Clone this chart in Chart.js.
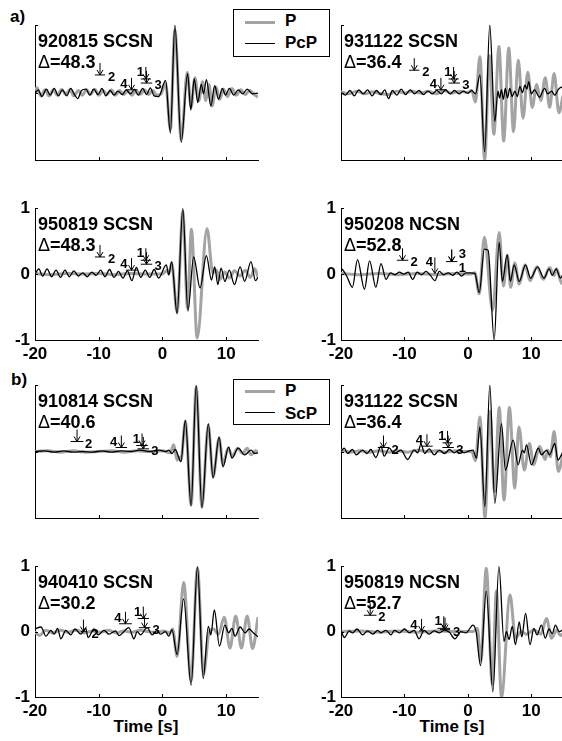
<!DOCTYPE html>
<html><head><meta charset="utf-8">
<script src="https://cdn.jsdelivr.net/npm/chart.js@4.4.1/dist/chart.umd.min.js"></script>
<style>
html,body{margin:0;padding:0;background:#fff;width:562px;height:741px;overflow:hidden;position:relative;font-family:'Liberation Sans',Arial,Helvetica,sans-serif;}
canvas{position:absolute;}
.t{position:absolute;font-size:17px;font-weight:bold;color:#000;line-height:17px;white-space:nowrap;}
.leg{position:absolute;border:1.5px solid #000;background:#fff;box-sizing:border-box;}
.ln{position:absolute;}
</style>
</head><body>
<div class="t" style="left:10px;top:8px">a)</div>
<div class="t" style="left:11px;top:371px">b)</div>
<div class="leg" style="left:233px;top:9px;width:97px;height:48px"></div>
<div class="ln" style="left:245px;top:20.5px;width:30px;height:3px;background:#a3a3a3"></div>
<div class="ln" style="left:245px;top:42.5px;width:30px;height:1.4px;background:#000"></div>
<div class="t" id="la1" style="left:285px;top:12px"></div>
<div class="t" id="la2" style="left:285px;top:34px"></div>
<div class="leg" style="left:233px;top:379px;width:97px;height:46px"></div>
<div class="ln" style="left:245px;top:389.5px;width:30px;height:3px;background:#a3a3a3"></div>
<div class="ln" style="left:245px;top:412px;width:30px;height:1.4px;background:#000"></div>
<div class="t" id="lb1" style="left:285px;top:382px"></div>
<div class="t" id="lb2" style="left:285px;top:405px"></div>
<div class="t" id="xt1" style="left:146px;top:718px;transform:translateX(-50%)"></div>
<div class="t" id="xt2" style="left:452px;top:718px;transform:translateX(-50%)"></div>
<script>
// ---------- data ----------
const X_TICKS = [-20, -10, 0, 10];
const Y_TICKS = [-1, 0, 1];
const X_TITLE = 'Time [s]';
const LEGEND_A = ['P', 'PcP'];
const LEGEND_B = ['P', 'ScP'];
const STATIONS = ['920815 SCSN','931122 SCSN','950819 SCSN','950208 NCSN','910814 SCSN','931122 SCSN','940410 SCSN','950819 NCSN'];
const DISTANCES = ['48.3','36.4','48.3','52.8','40.6','36.4','30.2','52.7'];

// traces: [time s, normalized amplitude]; P = grey, C = black (PcP / ScP)
const P1 = [[-20,0.03],[-19.7,0.07],[-19.1,-0.05],[-18.4,0.04],[-17.8,-0.05],[-17.1,0.04],[-16.5,-0.04],[-15.8,0.05],[-15.2,-0.03],[-14.5,0.04],[-13.9,-0.05],[-13.2,0.03],[-12.6,-0.04],[-11.9,0.04],[-11.3,-0.03],[-10.6,0.05],[-10.0,-0.04],[-9.3,0.03],[-8.7,-0.03],[-8.0,0.04],[-7.4,-0.04],[-6.7,0.03],[-6.1,-0.03],[-5.4,0.02],[-4.8,-0.04],[-4.1,0.03],[-3.5,-0.03],[-2.8,0.04],[-2.2,-0.03],[-1.5,0.03],[-0.9,-0.04],[-0.2,-0.02],[0.5,0.14],[1.25,-0.55],[1.95,0.93],[2.95,-0.7],[3.9,0.3],[4.5,-0.22],[5.1,0.22],[5.7,-0.12],[6.3,0.16],[6.8,-0.12],[7.3,0.12],[7.8,-0.2],[8.4,0.08],[9.0,-0.1],[9.6,0.05],[10.2,-0.06],[10.9,0.06],[11.6,-0.04],[12.3,0.04],[13.0,-0.03],[13.7,0.03],[14.4,-0.03],[15,-0.07]];
const C1 = [[-20,-0.02],[-19.5,0.04],[-18.9,-0.06],[-18.2,0.05],[-17.6,-0.04],[-17.0,0.06],[-16.3,-0.05],[-15.7,0.04],[-15.0,-0.05],[-14.4,0.06],[-13.8,-0.03],[-13.3,-0.09],[-12.7,0.03],[-12.0,0.05],[-11.4,-0.04],[-10.8,0.05],[-10.1,-0.03],[-9.5,0.06],[-8.9,-0.05],[-8.2,0.03],[-7.6,-0.04],[-7.0,0.02],[-6.3,-0.03],[-5.7,0.04],[-5.0,-0.02],[-4.4,0.05],[-3.8,-0.04],[-3.1,0.06],[-2.5,-0.03],[-1.9,0.07],[-1.3,-0.05],[-0.6,-0.06],[0.5,0.18],[1.25,-0.6],[1.95,1.0],[2.95,-0.74],[3.95,0.28],[4.45,-0.26],[5.0,0.2],[5.55,-0.15],[6.1,0.12],[6.45,-0.02],[6.9,0.19],[7.6,-0.2],[8.2,0.1],[8.8,-0.1],[9.4,0.06],[9.9,-0.04],[10.5,0.06],[11.2,-0.04],[11.9,0.04],[12.6,-0.02],[13.3,0.05],[14.1,-0.02],[15,-0.01]];
const P2 = [[-20,0.01],[-18.8,-0.02],[-17.5,0.02],[-16.2,-0.02],[-15,0.01],[-13.8,-0.02],[-12.5,-0.03],[-11.2,0.02],[-10,-0.01],[-8.8,0.02],[-7.5,-0.01],[-6.2,0.02],[-5,-0.02],[-3.8,0.03],[-2.5,-0.01],[-1.2,0.02],[0,0.0],[0.6,0.03],[1.2,-0.14],[1.9,0.53],[2.65,-1.0],[3.4,0.55],[4.1,-0.62],[4.9,0.68],[5.65,-0.72],[6.45,0.66],[7.2,-0.58],[7.95,0.48],[8.7,-0.38],[9.45,0.3],[10.15,-0.22],[10.85,0.12],[11.5,-0.12],[12.2,0.22],[12.9,-0.22],[13.6,0.28],[14.35,-0.3],[15,-0.05]];
const C2 = [[-20,0.0],[-19.3,-0.04],[-18.6,0.03],[-17.9,-0.05],[-17.2,0.04],[-16.5,-0.02],[-15.8,0.04],[-15.1,-0.05],[-14.4,0.03],[-13.7,-0.03],[-13.1,0.04],[-12.5,-0.09],[-11.9,0.03],[-11.2,-0.04],[-10.5,0.05],[-9.8,-0.03],[-9.1,0.04],[-8.4,-0.02],[-7.7,0.03],[-7.0,-0.03],[-6.3,0.02],[-5.6,-0.02],[-4.9,0.03],[-4.2,-0.02],[-3.5,0.04],[-2.8,-0.02],[-2.1,0.03],[-1.4,-0.02],[-0.7,0.02],[0.0,-0.01],[0.6,0.03],[1.2,-0.02],[1.9,0.26],[2.65,-0.88],[3.45,1.0],[4.25,-0.43],[4.75,0.02],[5.0,-0.08],[5.3,0.04],[5.6,-0.1],[5.9,0.06],[6.25,-0.08],[6.6,0.06],[7.0,-0.06],[7.4,0.02],[7.8,-0.06],[8.2,0.09],[8.6,0.0],[9.0,0.11],[9.3,0.05],[9.6,0.16],[10.0,-0.02],[10.5,0.04],[11.3,-0.07],[12.1,0.06],[12.6,-0.02],[13.2,0.02],[13.7,-0.04],[14.3,0.05],[14.8,0.08],[15,0.05]];
const P3 = [[-20,0.01],[-17.5,-0.01],[-15,0.01],[-12.5,0.0],[-10,0.01],[-7.5,-0.01],[-5,0.01],[-2.5,0.0],[0,0.0],[0.7,0.06],[1.0,0.0],[1.45,0.17],[2.3,-0.58],[3.2,0.95],[3.95,-0.52],[4.55,0.68],[5.45,-0.97],[7.0,0.69],[7.9,0.02],[8.5,0.06],[9.0,-0.08],[9.8,0.03],[10.5,-0.06],[11.3,0.05],[12.2,-0.03],[13.0,0.06],[13.8,-0.05],[14.5,0.08],[15,-0.05]];
const C3 = [[-20,0.0],[-19.4,0.08],[-18.8,-0.03],[-18.1,0.08],[-17.4,-0.04],[-16.7,0.06],[-16.0,-0.05],[-15.3,0.06],[-14.6,-0.04],[-13.9,0.05],[-13.2,-0.03],[-12.5,0.02],[-11.8,-0.04],[-11.1,0.03],[-10.4,-0.02],[-9.7,0.06],[-9.0,-0.04],[-8.3,0.07],[-7.6,-0.05],[-6.9,0.04],[-6.2,-0.06],[-5.5,0.05],[-4.8,-0.1],[-4.1,0.1],[-3.4,-0.05],[-2.7,0.06],[-2.0,-0.05],[-1.3,0.07],[-0.6,-0.06],[0.6,0.14],[1.0,-0.01],[1.45,0.19],[2.3,-0.6],[3.2,1.0],[4.0,-0.56],[4.9,0.26],[5.9,-0.21],[6.9,0.28],[7.7,-0.09],[8.2,0.11],[8.7,-0.16],[9.2,0.09],[9.8,-0.11],[10.5,0.06],[11.3,-0.16],[12.2,0.11],[12.9,-0.11],[13.9,0.19],[14.6,-0.1],[15,-0.05]];
const P4 = [[-20,0.01],[-17,-0.01],[-14,0.01],[-11,-0.01],[-8,0.01],[-5,-0.01],[-2,0.01],[0.5,0.0],[1.1,0.02],[1.8,-0.3],[2.6,0.56],[3.9,-0.55],[4.95,0.63],[5.6,-0.18],[6.25,0.28],[6.75,-0.2],[7.4,0.17],[8.1,-0.15],[9.0,0.14],[9.8,-0.1],[10.9,0.11],[11.9,-0.08],[12.9,0.1],[13.6,-0.02],[14.0,0.08],[14.8,-0.14],[15,-0.12]];
const C4 = [[-20,0.09],[-19.6,0.05],[-19.05,-0.04],[-18.2,-0.2],[-17.4,0.22],[-16.3,-0.23],[-15.5,0.2],[-14.5,-0.2],[-13.7,0.16],[-12.9,-0.08],[-12.2,0.02],[-11.5,-0.01],[-10.8,0.03],[-10.1,0.0],[-9.4,0.03],[-8.7,-0.08],[-8.0,0.03],[-7.3,-0.01],[-6.6,0.04],[-5.9,-0.02],[-5.2,-0.1],[-4.5,0.04],[-3.8,-0.01],[-3.1,0.02],[-2.4,-0.02],[-1.7,0.03],[-1.0,-0.03],[-0.3,0.02],[0.4,0.02],[1.1,0.01],[1.8,-0.28],[2.6,0.38],[3.2,0.36],[4.15,-1.0],[4.93,0.48],[5.45,-0.11],[6.2,0.3],[6.7,-0.11],[7.3,0.14],[8.1,-0.11],[9.1,0.14],[9.9,-0.06],[11.0,0.11],[12.0,-0.06],[12.8,0.08],[13.3,-0.02],[13.9,0.08],[14.6,-0.06],[15,0.0]];
const P5 = [[-20,0.0],[-18,0.01],[-16,-0.01],[-14,0.01],[-12,-0.01],[-10,0.0],[-8,0.01],[-6,-0.01],[-4,0.01],[-2,0.0],[0,0.01],[1.2,-0.02],[1.77,0.1],[2.3,-0.13],[2.6,-0.08],[2.9,-0.14],[3.6,0.45],[4.5,-0.8],[5.3,0.97],[6.2,-0.83],[7.2,0.4],[7.95,-0.38],[8.9,0.2],[9.5,-0.2],[10.3,0.05],[11.0,-0.07],[11.8,0.05],[12.6,-0.03],[13.3,0.05],[13.9,-0.05],[14.6,0.01],[15,-0.02]];
const C5 = [[-20,0.0],[-18.5,0.01],[-17,-0.01],[-15.5,0.01],[-14,-0.01],[-12.5,0.0],[-11,-0.01],[-9.5,0.01],[-8,-0.01],[-6.5,0.01],[-5,0.0],[-3.5,0.02],[-2,0.0],[-0.5,0.02],[0.5,0.0],[1.0,0.02],[1.5,-0.03],[2.0,0.03],[2.9,-0.15],[3.6,0.47],[4.5,-0.82],[5.3,1.0],[6.2,-0.85],[7.2,0.42],[7.95,-0.4],[8.9,0.22],[9.5,-0.23],[10.4,0.07],[10.9,-0.1],[11.9,0.05],[12.9,-0.05],[13.9,0.02],[14.5,-0.03],[15,-0.02]];
const P6 = [[-20,0.02],[-18.5,-0.01],[-17,0.01],[-15.5,-0.01],[-14,0.01],[-12.5,-0.01],[-11,0.01],[-9.5,-0.01],[-8,0.02],[-6.5,0.0],[-5,0.01],[-3.5,-0.01],[-2,0.01],[-0.5,0.0],[0.6,0.0],[1.2,-0.14],[1.9,0.52],[2.7,-1.0],[3.45,0.6],[4.2,-0.6],[4.95,0.66],[5.7,-0.73],[6.55,0.66],[7.4,-0.55],[8.05,0.37],[8.9,-0.28],[9.7,0.12],[10.4,-0.2],[11.3,0.08],[12.2,-0.12],[12.6,0.02],[13.0,-0.08],[13.6,0.3],[14.25,-0.3],[15,-0.05]];
const C6 = [[-20,0.0],[-19.5,0.05],[-18.95,-0.03],[-18.2,0.03],[-17.6,-0.05],[-16.6,0.02],[-15.9,-0.03],[-15.3,0.03],[-14.5,-0.09],[-13.7,0.08],[-13.2,-0.07],[-12.4,0.05],[-11.6,-0.03],[-10.55,0.02],[-9.5,-0.12],[-8.45,0.02],[-7.9,-0.02],[-7.4,0.11],[-6.8,-0.03],[-6.1,0.04],[-5.3,-0.05],[-4.5,0.02],[-3.7,-0.03],[-2.9,0.03],[-2.15,-0.02],[-1.4,0.02],[-0.6,-0.02],[0.2,0.01],[0.8,0.02],[1.36,-0.1],[1.9,0.37],[2.68,-0.83],[3.46,1.0],[4.25,-0.78],[5.3,0.42],[5.93,-0.28],[7.14,0.17],[7.93,-0.2],[8.6,0.02],[8.9,-0.02],[9.24,0.1],[10.03,-0.2],[11.1,0.05],[11.6,-0.05],[12.4,0.02],[12.9,-0.05],[13.7,0.12],[14.2,-0.13],[14.75,-0.05],[15,0.0]];
const P7 = [[-20,0.0],[-19.3,-0.06],[-18.3,0.02],[-17.2,-0.02],[-16,0.02],[-14.8,-0.01],[-13.5,0.02],[-12.2,-0.02],[-11,0.01],[-9.8,-0.01],[-8.5,0.02],[-7.2,-0.02],[-6,0.01],[-4.8,-0.01],[-3.5,0.02],[-2.2,0.0],[-1,-0.01],[0.2,0.01],[1.2,-0.02],[1.6,0.04],[2.3,-0.38],[3.33,0.75],[4.5,-0.75],[5.5,0.97],[6.45,-0.65],[7.3,-0.02],[8.0,0.04],[8.8,-0.04],[9.7,0.22],[10.6,-0.25],[11.5,0.24],[12.4,-0.25],[13.3,0.24],[14.15,-0.26],[15,0.22]];
const C7 = [[-20,0.04],[-19.06,0.07],[-18.28,-0.07],[-17.5,0.02],[-16.98,-0.04],[-16.46,0.05],[-15.94,-0.11],[-15.16,0.02],[-14.38,-0.05],[-13.75,0.04],[-12.8,-0.04],[-12.03,0.05],[-11.67,-0.09],[-10.73,0.04],[-10.1,-0.05],[-9.17,0.02],[-8.39,-0.04],[-7.34,0.01],[-6.82,-0.06],[-5.26,0.06],[-4.48,-0.11],[-3.96,0.0],[-3.44,-0.05],[-2.4,0.06],[-1.61,-0.05],[-0.83,0.02],[-0.31,-0.04],[0.47,0.0],[1.0,-0.07],[1.5,0.03],[2.3,-0.35],[3.33,0.5],[4.5,-0.82],[5.5,1.0],[6.4,-0.72],[7.2,0.08],[7.6,-0.05],[8.15,0.33],[8.95,-0.22],[9.8,0.1],[10.4,-0.02],[10.9,0.05],[11.4,-0.07],[12.2,0.07],[13.0,-0.02],[13.6,0.04],[14.3,-0.02],[15,-0.08]];
const P8 = [[-20,0.0],[-17,0.01],[-14,-0.01],[-11,0.01],[-8,-0.01],[-5,0.01],[-2,0.0],[0.8,0.0],[1.5,0.05],[2.05,-0.45],[2.9,0.97],[3.85,-0.8],[4.5,0.62],[5.3,-1.0],[6.65,0.56],[7.5,-0.1],[8.4,0.0],[9.3,-0.04],[10.4,0.03],[11.5,-0.04],[12.4,0.2],[13.2,-0.1],[14.0,0.02],[14.6,-0.06],[15,-0.03]];
const C8 = [[-20,0.02],[-19.47,-0.09],[-18.7,0.01],[-18.16,-0.02],[-17.48,0.04],[-16.6,-0.05],[-15.8,0.01],[-15.0,-0.04],[-14.2,0.02],[-13.7,-0.02],[-12.9,0.02],[-12.1,-0.05],[-11.6,0.02],[-10.8,-0.02],[-10.0,0.04],[-9.2,-0.02],[-8.45,0.02],[-7.7,-0.11],[-6.9,0.02],[-6.1,-0.04],[-5.3,0.01],[-4.5,-0.02],[-3.7,0.02],[-2.9,-0.01],[-2.05,-0.11],[-1.1,0.0],[-0.3,-0.02],[0.8,0.1],[1.3,0.0],[2.0,-0.52],[2.9,0.62],[3.95,-0.92],[4.9,1.0],[5.7,-0.15],[6.1,0.0],[6.5,-0.12],[7.0,0.08],[7.5,-0.2],[8.1,0.15],[8.5,-0.08],[9.1,0.28],[9.8,-0.2],[10.4,0.05],[10.9,-0.05],[11.6,0.1],[12.2,-0.1],[12.8,0.04],[13.3,-0.03],[13.8,0.1],[14.4,0.0],[15,0.03]];

// predicted-arrival markers: [time s, amplitude at arrow tip, half-width s, label, label side, arrow length px]
const M1 = [[-9.8,0.26,0.8,'2','r'],[-4.85,0.04,0.9,'4','l'],[-2.6,0.2,0.8,'1','ul'],[-2.5,0.14,0.9,'3','r']];
const M2 = [[-8.45,0.33,0.8,'2','r'],[-4.25,0.04,0.9,'4','l'],[-2.25,0.2,0.8,'1','ul'],[-2.15,0.14,0.9,'3','r']];
const M3 = [[-9.8,0.26,0.8,'2','r'],[-4.85,0.06,0.9,'4','l'],[-2.6,0.21,0.8,'1','ul'],[-2.5,0.15,0.9,'3','r']];
const M4 = [[-10.3,0.21,0.9,'2','r'],[-5.2,0.01,0,'4','ul',16],[-2.55,0.19,0.9,'3','ur'],[-2.55,0.19,0,'1','rb']];
const M5 = [[-13.4,0.15,1.0,'2','r'],[-6.45,0.06,0.9,'4','l'],[-3.2,0.09,0.9,'1','ul'],[-3.0,0.04,0.9,'3','r']];
const M6 = [[-13.3,0.06,0.9,'2','r'],[-6.45,0.08,0.9,'4','l'],[-3.2,0.13,0.8,'1','ul'],[-3.1,0.06,0.9,'3','r']];
const M7 = [[-12.4,0.0,0.4,'2','r'],[-5.8,0.12,1.0,'4','l'],[-3.0,0.2,0.9,'1','ul'],[-2.8,0.06,0.9,'3','r']];
const M8 = [[-15.4,0.25,1.0,'2','r'],[-7.3,0.01,0.4,'4','l'],[-3.8,0.05,1.0,'1','ul'],[-3.6,0.03,0.8,'3','r']];

// ---------- layout / drawing ----------
document.getElementById('la1').textContent = LEGEND_A[0];
document.getElementById('la2').textContent = LEGEND_A[1];
document.getElementById('lb1').textContent = LEGEND_B[0];
document.getElementById('lb2').textContent = LEGEND_B[1];
document.getElementById('xt1').textContent = X_TITLE;
document.getElementById('xt2').textContent = X_TITLE;

const FONT = "'Liberation Sans', Arial, Helvetica, sans-serif";
const COLS = [[35,258],[341,563]];
const ROWS = [[25,160],[205,340],[385,518],[563,697]];
const GREY = '#a3a3a3';
const panels = [[P1,C1,M1],[P2,C2,M2],[P3,C3,M3],[P4,C4,M4],[P5,C5,M5],[P6,C6,M6],[P7,C7,M7],[P8,C8,M8]];

function drawMarks(ctx, x, y, marks){
  ctx.strokeStyle = '#000'; ctx.fillStyle = '#000'; ctx.lineWidth = 1;
  ctx.font = `bold 13px ${FONT}`;
  ctx.textBaseline = 'alphabetic';
  for (const [t, v, hw, lab, side, len] of marks){
    const px = x.getPixelForValue(t), py = y.getPixelForValue(v);
    const L = len || 12;
    ctx.beginPath();
    ctx.moveTo(px, py - L); ctx.lineTo(px, py);
    ctx.moveTo(px - 3, py - 5); ctx.lineTo(px, py); ctx.lineTo(px + 3, py - 5);
    if (hw > 0){
      const w = x.getPixelForValue(t + hw) - px;
      ctx.moveTo(px - w, py); ctx.lineTo(px + w, py);
    }
    ctx.stroke();
    let lx, ly, al = 'left';
    if (side === 'r'){ lx = px + 8; ly = py + 6; }
    else if (side === 'l'){ lx = px - 4; ly = py - 2; al = 'right'; }
    else if (side === 'ul'){ lx = px - 2; ly = py - L + 9; al = 'right'; }
    else if (side === 'ur'){ lx = px + 7; ly = py - 4; }
    else { lx = px + 7; ly = py + 10; }
    ctx.textAlign = al;
    ctx.fillText(lab, lx, ly);
  }
}

panels.forEach(([P, C, M], i) => {
  const [L, R] = COLS[i % 2];
  const [T, B] = ROWS[Math.floor(i / 2)];
  const showTicks = Math.floor(i / 2) % 2 === 1;
  const W = R - L + 44, H = B - T + 56;
  const cv = document.createElement('canvas');
  cv.width = W; cv.height = H;
  cv.style.left = (L - 40) + 'px'; cv.style.top = (T - 12) + 'px';
  cv.style.width = W + 'px'; cv.style.height = H + 'px';
  document.body.appendChild(cv);

  const ann = {
    id: 'ann' + i,
    afterDatasetsDraw(chart){
      const {ctx, chartArea: a, scales: {x, y}} = chart;
      ctx.save();
      ctx.strokeStyle = '#000'; ctx.lineWidth = 1;
      ctx.beginPath();
      X_TICKS.forEach(v => { const px = Math.round(x.getPixelForValue(v)) + 0.5; ctx.moveTo(px, a.bottom); ctx.lineTo(px, a.bottom - 3); });
      Y_TICKS.forEach(v => { const py = Math.round(y.getPixelForValue(v)) + 0.5; ctx.moveTo(a.left, py); ctx.lineTo(a.left + 3, py); });
      ctx.stroke();
      ctx.fillStyle = '#000'; ctx.textAlign = 'left'; ctx.textBaseline = 'alphabetic';
      ctx.font = `bold 18px ${FONT}`;
      ctx.fillText(STATIONS[i], a.left + 3, a.top + 22);
      ctx.font = `18px ${FONT}`;
      ctx.fillText('\u0394', a.left + 3, a.top + 43);
      const dw = ctx.measureText('\u0394').width;
      ctx.font = `bold 18px ${FONT}`;
      ctx.fillText('=' + DISTANCES[i], a.left + 3 + dw, a.top + 43);
      drawMarks(ctx, x, y, M);
      ctx.restore();
    }
  };

  const tickFont = {family: FONT, size: 17, weight: 'bold'};
  new Chart(cv, {
    type: 'line',
    data: {datasets: [
      {data: C.map(([t, v]) => ({x: t, y: v})), borderColor: '#000', borderWidth: 1.3, pointRadius: 0, cubicInterpolationMode: 'monotone', fill: false},
      {data: P.map(([t, v]) => ({x: t, y: v})), borderColor: GREY, borderWidth: 3, pointRadius: 0, cubicInterpolationMode: 'monotone', fill: false}
    ]},
    options: {
      responsive: false, animation: false, devicePixelRatio: 1, events: [],
      layout: {padding: {left: 0, right: 4, top: 12, bottom: 0}},
      plugins: {legend: {display: false}, tooltip: {enabled: false}},
      scales: {
        x: {type: 'linear', min: -20, max: 15,
            afterBuildTicks: s => { s.ticks = X_TICKS.map(v => ({value: v})); },
            afterFit: s => { s.height = 44; },
            grid: {display: false, drawTicks: false}, border: {display: true, color: '#000', width: 1},
            ticks: {display: showTicks, padding: 4, color: '#000', font: tickFont, maxRotation: 0, autoSkip: false}},
        y: {type: 'linear', min: -1, max: 1,
            afterBuildTicks: s => { s.ticks = Y_TICKS.map(v => ({value: v})); },
            afterFit: s => { s.width = 40; },
            grid: {display: false, drawTicks: false}, border: {display: true, color: '#000', width: 1},
            ticks: {display: showTicks, padding: 5, color: '#000', font: tickFont}}
      }
    },
    plugins: [ann]
  });
});
</script>
</body></html>
